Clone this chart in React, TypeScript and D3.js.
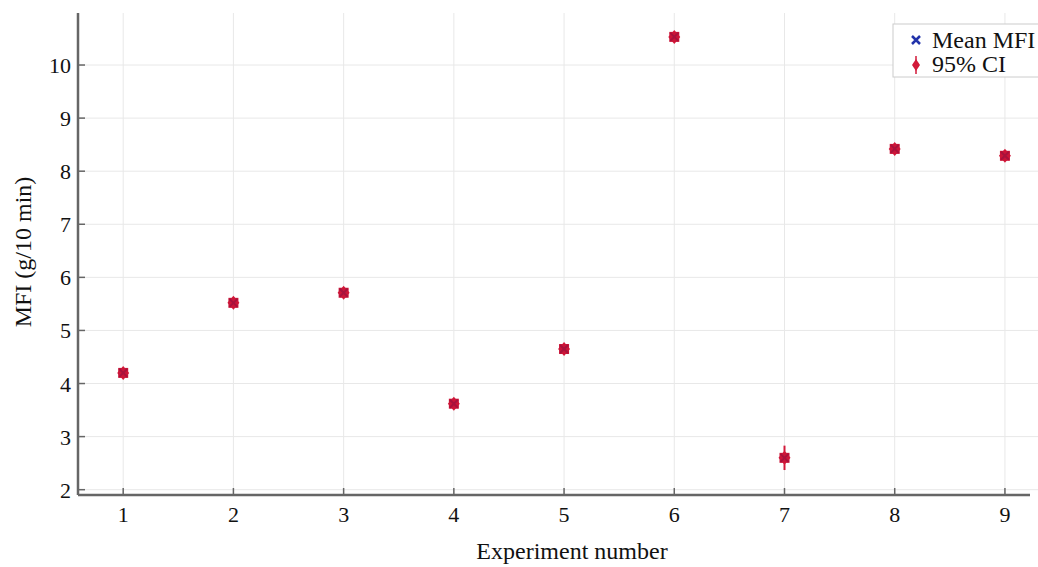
import React from 'react';
import * as d3 from 'd3';

const experiments = [1, 2, 3, 4, 5, 6, 7, 8, 9];
const meanMFI = [4.2, 5.52, 5.71, 3.62, 4.65, 10.53, 2.6, 8.42, 8.29];
const ciHalf = [0.05, 0.05, 0.05, 0.05, 0.05, 0.05, 0.23, 0.05, 0.05];
const yTicks = [2, 3, 4, 5, 6, 7, 8, 9, 10];

const W = 1038;
const H = 567;
const m = { left: 78, top: 13, right: 0, bottom: 72 };

export default function App() {
  const x = d3.scaleLinear().domain([0.59, 9.3]).range([m.left, W - m.right]);
  const y = d3.scaleLinear().domain([1.9, 10.98]).range([H - m.bottom, m.top]);
  const font = '"Liberation Serif", "Times New Roman", serif';
  const y0 = H - m.bottom;

  return (
    <svg width={W} height={H} style={{ position: 'absolute', left: 0, top: 0 }} fontFamily={font}>
      <rect width={W} height={H} fill="#fff" />
      {/* grid */}
      {experiments.map(d => (
        <line key={'gx' + d} x1={x(d)} x2={x(d)} y1={m.top} y2={y0} stroke="#e8e8e8" />
      ))}
      {yTicks.map(d => (
        <line key={'gy' + d} x1={m.left} x2={W} y1={y(d)} y2={y(d)} stroke="#e8e8e8" />
      ))}
      {/* axes */}
      <line x1={m.left} x2={m.left} y1={m.top} y2={y0} stroke="#666" strokeWidth={2.5} />
      <line x1={m.left} x2={W - 8} y1={y0} y2={y0} stroke="#666" strokeWidth={2.5} />
      {experiments.map(d => (
        <g key={'tx' + d}>
          <line x1={x(d)} x2={x(d)} y1={y0} y2={y0 - 7} stroke="#666" strokeWidth={1.5} />
          <text x={x(d)} y={y0 + 27} textAnchor="middle" fontSize={22} fill="#111">{d}</text>
        </g>
      ))}
      {yTicks.map(d => (
        <g key={'ty' + d}>
          <line x1={m.left} x2={m.left + 7} y1={y(d)} y2={y(d)} stroke="#666" strokeWidth={1.5} />
          <text x={m.left - 7} y={y(d) + 8} textAnchor="end" fontSize={22} fill="#111">{d}</text>
        </g>
      ))}
      <text x={572} y={559} textAnchor="middle" fontSize={24} fill="#111">Experiment number</text>
      <text transform={`translate(31,252) rotate(-90)`} textAnchor="middle" fontSize={24} fill="#111">MFI (g/10 min)</text>
      {/* data */}
      {experiments.map((d, i) => {
        const cx = x(d);
        const cy = y(meanMFI[i]);
        return (
          <g key={'p' + d}>
            <line x1={cx} x2={cx} y1={y(meanMFI[i] - ciHalf[i])} y2={y(meanMFI[i] + ciHalf[i])} stroke="#d21a3a" strokeWidth={2} />
            <path d={`M${cx},${cy - 7}L${cx + 6},${cy}L${cx},${cy + 7}L${cx - 6},${cy}Z`} fill="#d21a3a" />
            <rect x={cx - 5} y={cy - 5} width={10} height={10} fill="#cc1538" />
            <path d={`M${cx - 4},${cy - 4}L${cx + 4},${cy + 4}M${cx - 4},${cy + 4}L${cx + 4},${cy - 4}`} stroke="#a8123c" strokeWidth={2} />
          </g>
        );
      })}
      {/* legend */}
      <rect x={893} y={24} width={150} height={53} fill="#fff" stroke="#ccc" />
      <path d="M912,36L920,44M912,44L920,36" stroke="#2233aa" strokeWidth={2.5} />
      <text x={932} y={48} fontSize={24} fill="#111">Mean MFI</text>
      <line x1={916} x2={916} y1={56} y2={74} stroke="#d21a3a" strokeWidth={1.5} />
      <path d="M916,59L920,65L916,71L912,65Z" fill="#d21a3a" />
      <text x={932} y={72} fontSize={24} fill="#111">95% CI</text>
    </svg>
  );
}
